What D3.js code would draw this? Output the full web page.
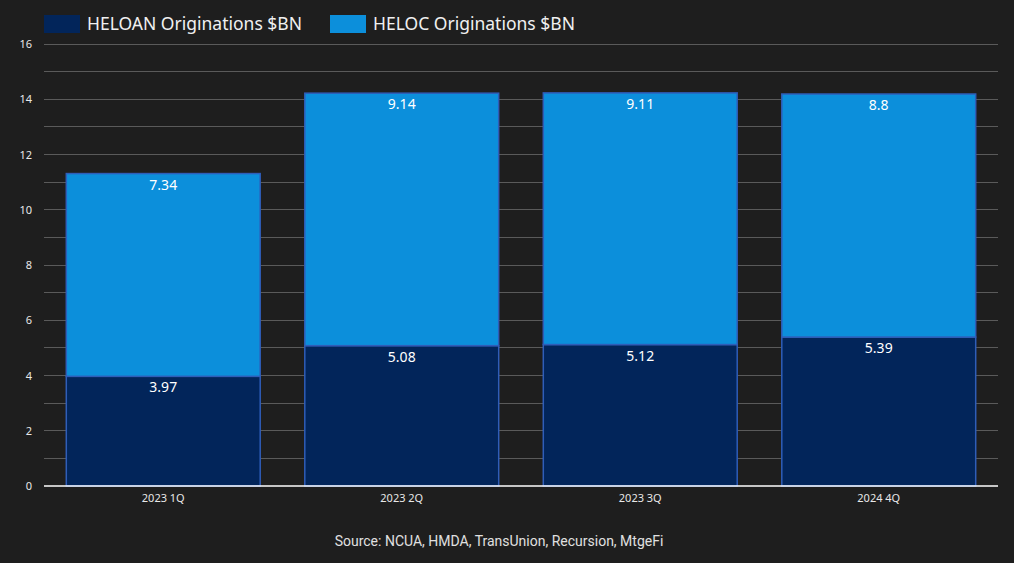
<!DOCTYPE html>
<html><head><meta charset="utf-8">
<script src="https://cdn.jsdelivr.net/npm/d3@7"></script>
<style>
html,body{margin:0;padding:0;background:#1e1e1e;}
svg{display:block;}
</style></head>
<body>
<svg id="chart" width="1014" height="563"></svg>
<script>
const categories = ["2023 1Q", "2023 2Q", "2023 3Q", "2024 4Q"];
const heloan = [3.97, 5.08, 5.12, 5.39];
const heloc = [7.34, 9.14, 9.11, 8.8];
const seriesNames = ["HELOAN Originations $BN", "HELOC Originations $BN"];
const seriesColors = ["#02255a", "#0c8fdb"];
const yTicks = [0, 2, 4, 6, 8, 10, 12, 14, 16];
const sourceText = "Source: NCUA, HMDA, TransUnion, Recursion, MtgeFi";

const svg = d3.select("#chart");
const W = 1014, H = 563;
svg.append("rect").attr("width", W).attr("height", H).attr("fill", "#1e1e1e");

const m = {left: 44, right: 16, top: 44, bottom: 77};
const x = d3.scaleBand().domain(categories).range([m.left, W - m.right]).paddingInner(0.187).paddingOuter(0.0935);
const y = d3.scaleLinear().domain([0, 16]).range([H - m.bottom, m.top]);

const labelFont = "'Noto Sans', 'DejaVu Sans', sans-serif";

// gridlines every 1 unit
const gridVals = d3.range(1, 17);
svg.append("g").selectAll("line").data(gridVals).join("line")
  .attr("x1", m.left).attr("x2", W - m.right)
  .attr("y1", d => y(d)).attr("y2", d => y(d))
  .attr("stroke", "#5a5a5a").attr("stroke-width", 1).attr("shape-rendering", "crispEdges");

// y axis labels
const yAxis = d3.axisLeft(y).tickValues(yTicks).tickSize(0).tickPadding(12);
const yg = svg.append("g").attr("transform", `translate(${m.left},0)`).call(yAxis);
yg.select(".domain").remove();
yg.selectAll("text").attr("fill", "#e8e8e8").attr("font-size", 11).attr("font-family", labelFont);

const data = categories.map((c, i) => ({cat: c, v: [heloan[i], heloc[i]]}));
const stack = d3.stack().keys([0, 1]).value((d, k) => d.v[k]);
const stacked = stack(data);

stacked.forEach((layer, k) => {
  const g = svg.append("g");
  g.selectAll("rect").data(layer).join("rect")
    .attr("x", d => x(d.data.cat))
    .attr("width", x.bandwidth())
    .attr("y", d => y(d[1]))
    .attr("height", d => y(d[0]) - y(d[1]))
    .attr("fill", seriesColors[k])
    .attr("stroke", "#2f5db8").attr("stroke-width", 1.5);
  g.selectAll("text").data(layer).join("text")
    .attr("x", d => x(d.data.cat) + x.bandwidth() / 2)
    .attr("y", d => y(d[1]) + 16)
    .attr("text-anchor", "middle")
    .attr("fill", "#ffffff").attr("font-size", 14).attr("font-family", labelFont)
    .text(d => d.data.v[k]);
});

// zero line
svg.append("line").attr("x1", m.left).attr("x2", W - m.right)
  .attr("y1", y(0)).attr("y2", y(0)).attr("stroke", "#ffffff").attr("stroke-width", 1.5);

// x axis
const xAxis = d3.axisBottom(x).tickSize(0).tickPadding(8);
const xg = svg.append("g").attr("transform", `translate(0,${y(0)})`).call(xAxis);
xg.select(".domain").remove();
xg.selectAll("text").attr("fill", "#e8e8e8").attr("font-size", 11).attr("font-family", labelFont);

// legend
const legendX = [44, 330];
seriesNames.forEach((n, k) => {
  const g = svg.append("g").attr("transform", `translate(${legendX[k]},15)`);
  g.append("rect").attr("width", 36).attr("height", 18).attr("fill", seriesColors[k]);
  g.append("text").attr("x", 43).attr("y", 15).attr("fill", "#f0f0f0")
    .attr("font-size", 17.5).attr("font-family", labelFont).text(n);
});

// source
svg.append("text").attr("x", 499).attr("y", 546).attr("text-anchor", "middle")
  .attr("fill", "#e0e0e0").attr("font-size", 14).attr("font-family", "Roboto, sans-serif")
  .text(sourceText);
</script>
</body></html>
